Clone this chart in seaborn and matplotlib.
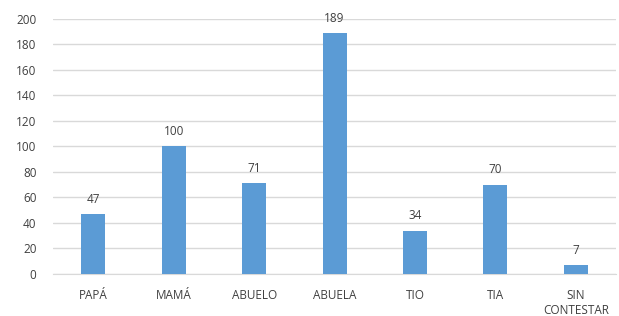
import pandas as pd
import matplotlib.pyplot as plt
import seaborn as sns

# Data
categories = ['PAPÁ', 'MAMÁ', 'ABUELO', 'ABUELA', 'TIO', 'TIA', 'SIN\nCONTESTAR']
values = [47, 100, 71, 189, 34, 70, 7]

df = pd.DataFrame({'persona': categories, 'total': values})

sns.set_style('white')
plt.rcParams['font.family'] = ['Open Sans', 'DejaVu Sans']

fig = plt.figure(figsize=(6.19, 3.16), dpi=100)
ax = fig.add_axes([0.086, 0.133, 0.909, 0.807])

sns.barplot(data=df, x='persona', y='total', color='#5B9BD5', saturation=1,
            width=0.3, ax=ax, zorder=3, linewidth=0)

# value labels
for c in ax.containers:
    ax.bar_label(c, padding=6, fontsize=8.5, color='#404040')

ax.set_ylim(0, 200)
ax.set_yticks(range(0, 201, 20))
ax.yaxis.grid(True, color='#D9D9D9', linewidth=1)
ax.set_axisbelow(True)
ax.set_xlabel('')
ax.set_ylabel('')
ax.tick_params(axis='both', labelsize=8.5, colors='#404040', length=0)
ax.tick_params(axis='x', pad=11)
ax.tick_params(axis='y', pad=12)
for s in ['top', 'right', 'left']:
    ax.spines[s].set_visible(False)
ax.spines['bottom'].set_color('#D9D9D9')

fig.savefig('out.png', dpi=100)
